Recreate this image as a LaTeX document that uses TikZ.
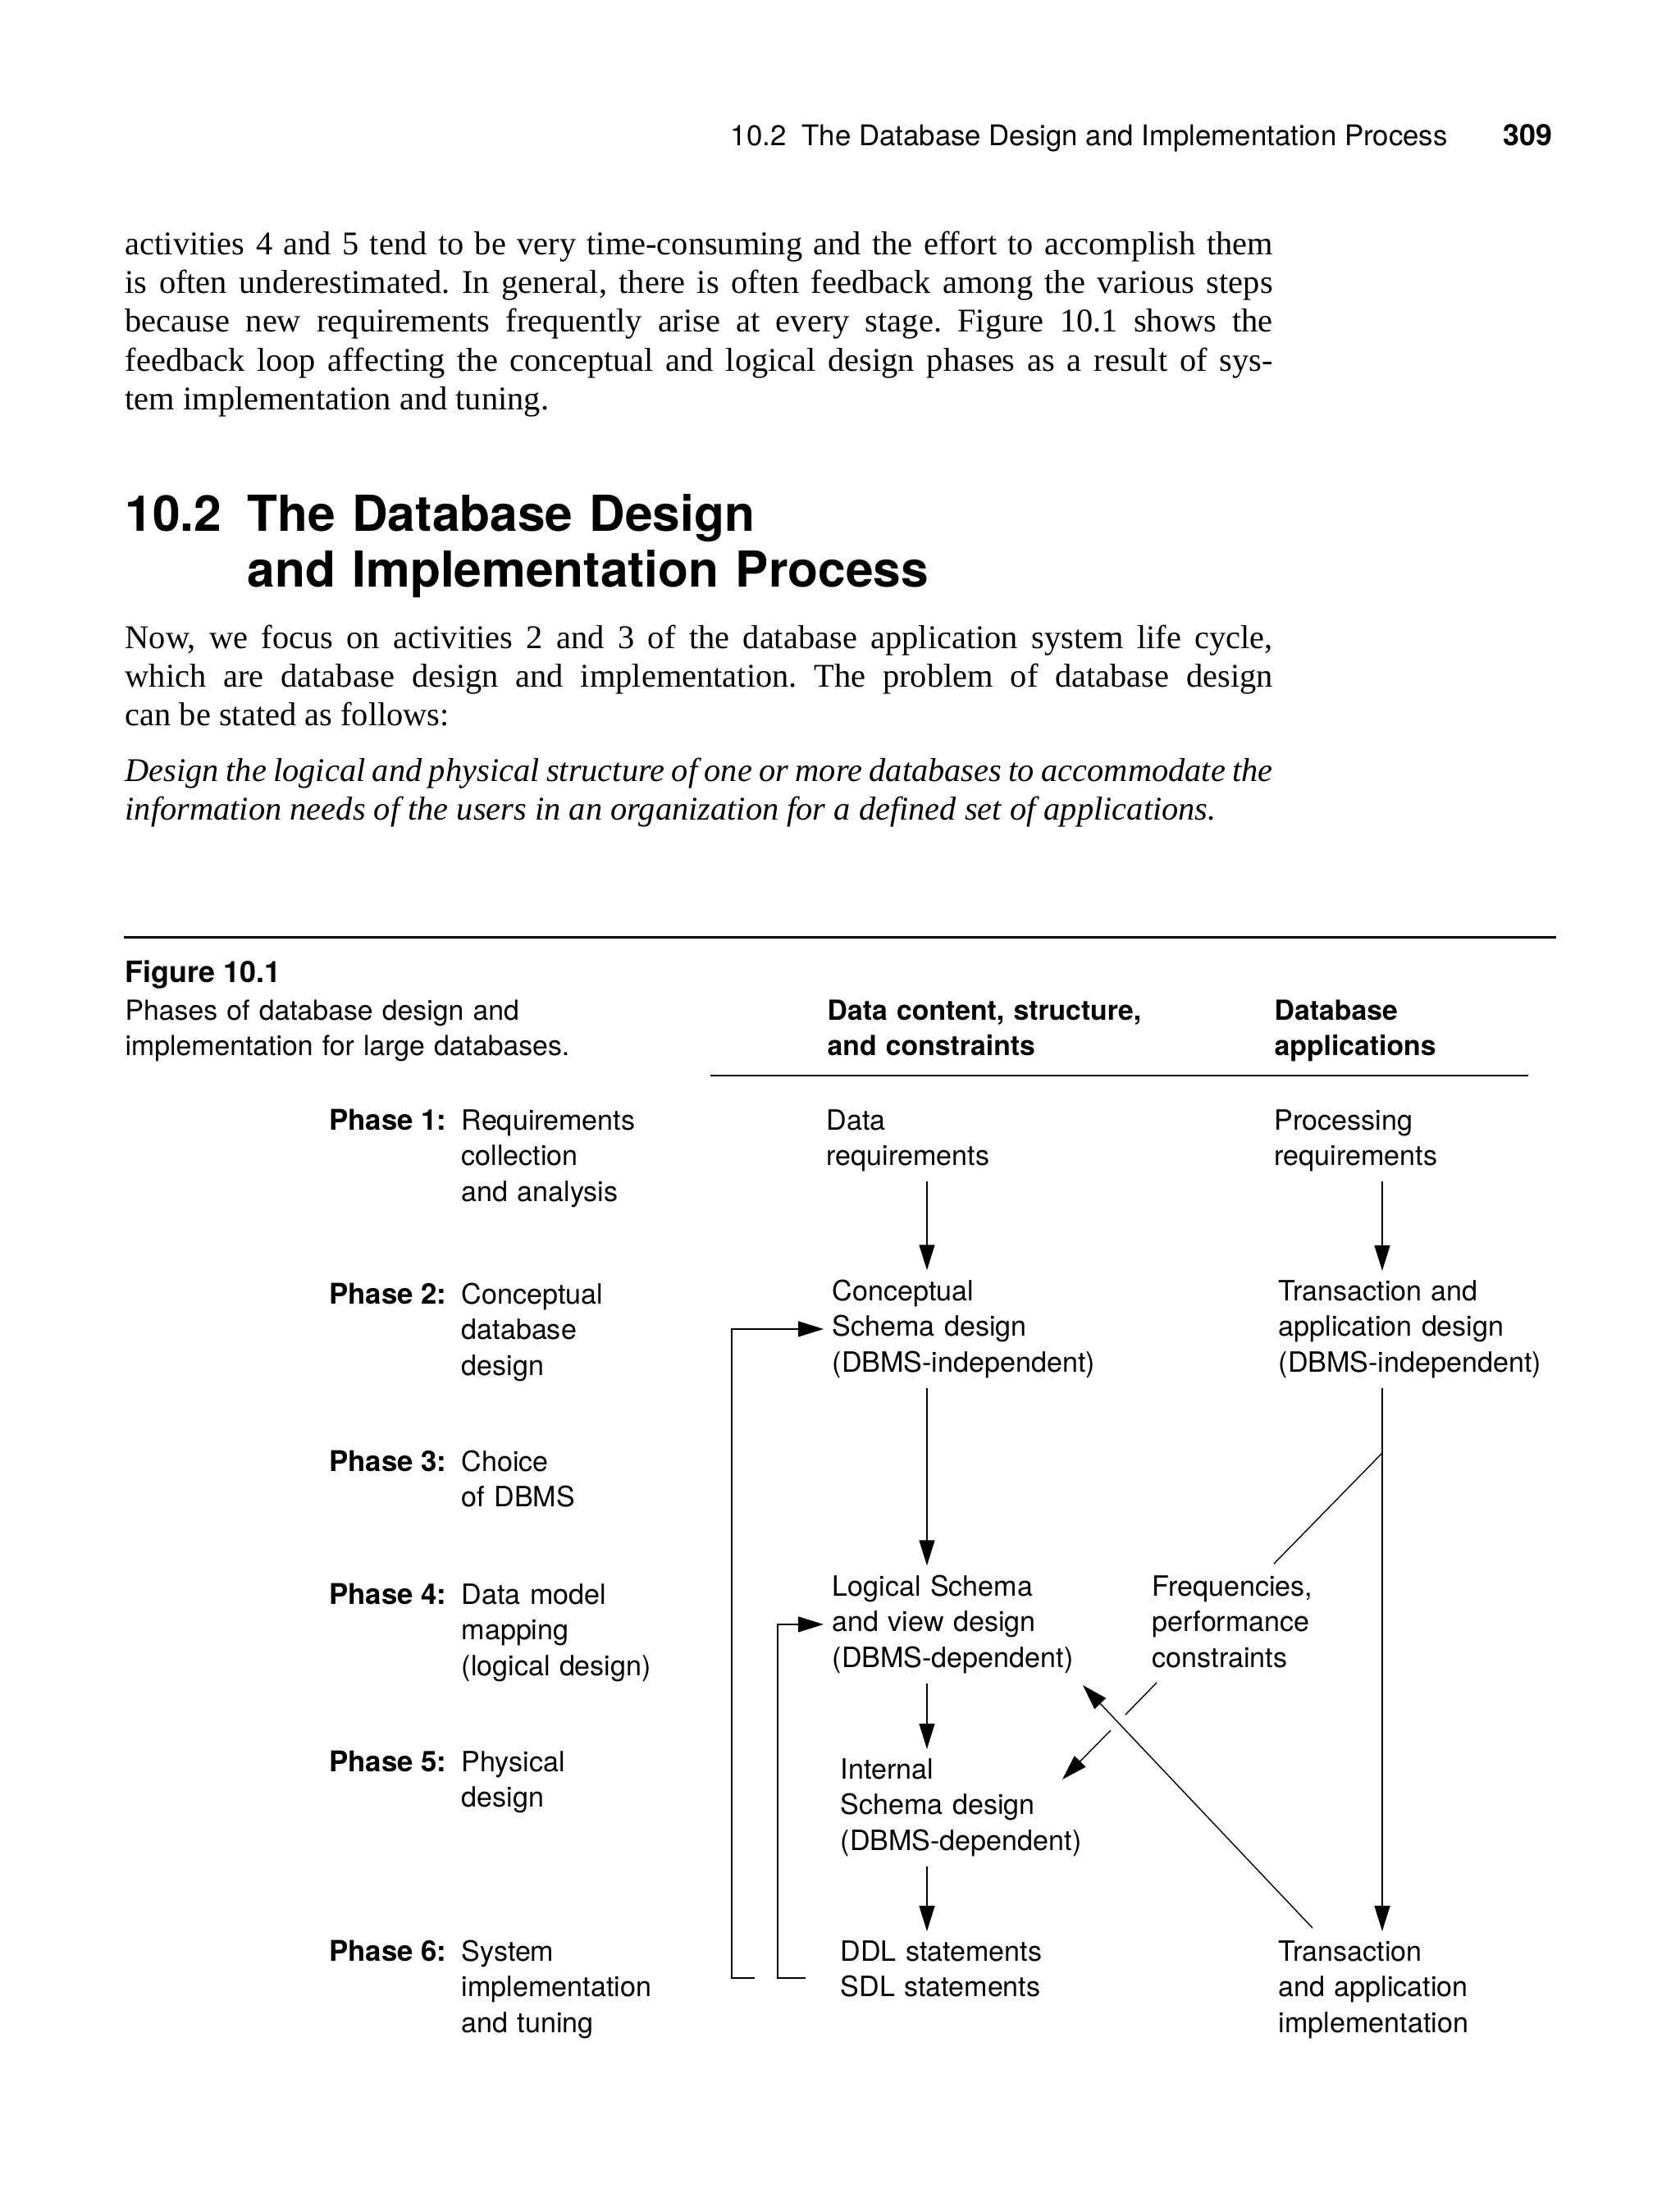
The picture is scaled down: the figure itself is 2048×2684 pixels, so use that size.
\documentclass[tikz,border=0pt]{standalone}
\usepackage{fontspec}
\setmainfont{Liberation Serif}
\setsansfont{TeX Gyre Heros}
\usetikzlibrary{arrows.meta}
\frenchspacing

\begin{document}
\begin{tikzpicture}[x=0.1mm,y=-0.1mm,
  body/.style={anchor=base west,inner sep=0pt,text width=139.9mm,align=justify,
    font=\fontsize{11.5}{13.5}\selectfont},
  fig/.style={anchor=base west,inner xsep=0pt,inner ysep=3pt,text width=4cm,align=left,
    font=\sffamily\fontsize{9.7}{12.5}\selectfont},
  head/.style={fig,font=\sffamily\bfseries\fontsize{9.6}{12.5}\selectfont},
  phase/.style={anchor=base east,inner sep=0pt,font=\sffamily\bfseries\fontsize{9.9}{12.5}\selectfont},
  ln/.style={line width=0.4pt},
  arr/.style={ln,-{Triangle[length=3.1mm,width=1.9mm]}}]

\useasboundingbox (0,0) rectangle (2048,2684);

% running head
\node[anchor=base west,inner sep=0pt,font=\sffamily\fontsize{9.9}{12}\selectfont] (runhead) at (890,177)
  {10.2\hspace{0.55em}The Database Design and Implementation Process};
\node[anchor=base west,inner sep=0pt,font=\sffamily\bfseries\fontsize{10.2}{12}\selectfont] (pagenum) at (1832,177) {309};

% text
\node[body] (para1) at (152,310) {activities 4 and 5 tend to be very time-consuming and the effort to accomplish them\linebreak
  is often underestimated. In general, there is often feedback among the various steps\linebreak
  because new requirements frequently arise at every stage. Figure 10.1 shows the\linebreak
  feedback loop affecting the conceptual and logical design phases as a result of sys-\linebreak
  tem implementation and tuning.};

\node[anchor=base west,inner sep=0pt,font=\sffamily\bfseries\fontsize{17.2}{19.4}\selectfont] (secnum) at (152,647) {10.2};
\node[anchor=base west,inner sep=0pt,text width=12cm,align=left,font=\sffamily\bfseries\fontsize{17.2}{19.4}\selectfont] (sectitle) at (301,647)
  {The Database Design\\and Implementation Process};

\node[body] (para2) at (152,790) {Now, we focus on activities 2 and 3 of the database application system life cycle,\linebreak
  which are database design and implementation. The problem of database design\linebreak
  can be stated as follows:};

\node[body,font=\itshape\fontsize{11.5}{13.5}\selectfont] (quote) at (152,952) {Design the logical and physical structure of one or more databases to accommodate the\linebreak
  information needs of the users in an organization for a defined set of applications.};

% figure
\draw[line width=0.85pt] (151,1142) -- (1897,1142);
\node[anchor=base west,inner sep=0pt,font=\sffamily\bfseries\fontsize{10.2}{12.5}\selectfont] (figno) at (152,1197) {Figure 10.1};
\node[fig,text width=6cm,font=\sffamily\fontsize{9.6}{12.5}\selectfont] (figcap) at (152,1243) {Phases of database design and\\implementation for large databases.};

\node[head] (headA) at (1008,1243) {Data content, structure,\\and constraints};
\node[head] (headB) at (1553,1243) {Database\\applications};
\draw[line width=0.5pt] (866,1311) -- (1863,1311);

\node[phase] (ph1) at (545,1377) {Phase 1:};
\node[phase] (ph2) at (545,1589) {Phase 2:};
\node[phase] (ph3) at (545,1793) {Phase 3:};
\node[phase] (ph4) at (545,1955) {Phase 4:};
\node[phase] (ph5) at (545,2159) {Phase 5:};
\node[phase] (ph6) at (545,2390) {Phase 6:};
\node[fig] (ph1txt) at (562,1377) {Requirements\\collection\\and analysis};
\node[fig] (ph2txt) at (562,1589) {Conceptual\\database\\design};
\node[fig] (ph3txt) at (562,1793) {Choice\\of DBMS};
\node[fig] (ph4txt) at (562,1955) {Data model\\mapping\\(logical design)};
\node[fig] (ph5txt) at (562,2159) {Physical\\design};
\node[fig] (ph6txt) at (562,2390) {System\\implementation\\and tuning};

\node[fig] (dreq) at (1007,1377) {Data\\requirements};
\node[fig] (csd) at (1014,1585) {Conceptual\\Schema design\\(DBMS-independent)};
\node[fig] (lsv) at (1014,1945) {Logical Schema\\and view design\\(DBMS-dependent)};
\node[fig] (isd) at (1024,2168) {Internal\\Schema design\\(DBMS-dependent)};
\node[fig] (ddl) at (1024,2390) {DDL statements\\SDL statements};

\node[fig] (preq) at (1553,1377) {Processing\\requirements};
\node[fig] (tad) at (1558,1585) {Transaction and\\application design\\(DBMS-independent)};
\node[fig] (freq) at (1404,1945) {Frequencies,\\performance\\constraints};
\node[fig] (tai) at (1558,2390) {Transaction\\and application\\implementation};

\coordinate (axA) at (1130,0);
\coordinate (axB) at (1685,0);

\draw[arr] (dreq.south -| axA) -- (csd.north -| axA);
\draw[arr] (csd.south -| axA) -- (lsv.north -| axA);
\draw[arr] (lsv.south -| axA) -- (isd.north -| axA);
\draw[arr] (isd.south -| axA) -- (ddl.north -| axA);

\draw[arr] (preq.south -| axB) -- (tad.north -| axB);
\draw[arr] (tad.south -| axB) -- (tai.north -| axB);

% feedback
\coordinate (fbA) at (920,2411);
\coordinate (fbB) at (982,2411);
\draw[arr,shorten >=1mm] (fbA) -- (892,2411) |- (csd.west);
\draw[arr,shorten >=1mm] (fbB) -- (948,2411) |- (lsv.west);

% frequencies
\coordinate (tsplit) at (1685,1771);
\coordinate (fqin) at (1553,1906);
\draw[ln] (tsplit) -- (fqin);

\coordinate (fqout) at (1410,2051);
\coordinate (gapA) at (1372,2090);
\coordinate (gapB) at (1354,2109);
\coordinate (isdin) at (1295,2169);
\draw[ln] (fqout) -- (gapA);
\draw[arr] (gapB) -- (isdin);

\coordinate (taiout) at (1600,2350);
\coordinate (lsvin) at (1320,2054);
\draw[arr] (taiout) -- (lsvin);
\end{tikzpicture}
\end{document}
